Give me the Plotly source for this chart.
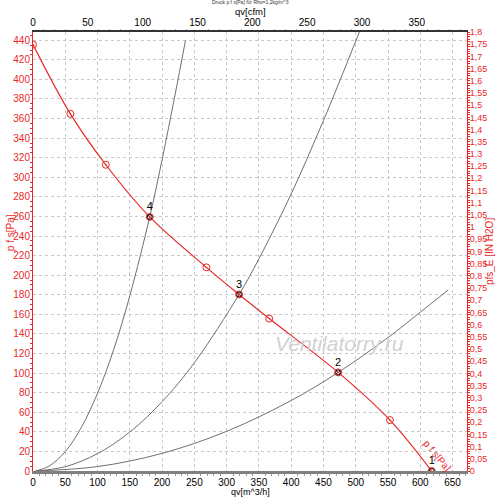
import plotly.graph_objects as go

# Fan curve p f s [Pa] over qv [m^3/h]
fan_q = [0, 57.9, 112.8, 180.8, 268.6, 319.3, 366, 472.8, 553, 617.7]
fan_p = [435.5, 364.8, 312.8, 259.5, 208, 180.3, 155.7, 100.7, 52, 0]

# System curves
sys4_q = [4, 25, 50, 75, 100, 125, 150, 180.8, 200, 220, 236.3]
sys4_p = [0, 5, 19.8, 44.7, 79.4, 124, 179, 259.5, 318, 384, 440]
sys3_q = [4, 50, 100, 150, 200, 250, 319.3, 350, 400, 450, 506]
sys3_p = [0, 4.4, 17.7, 39.8, 70.8, 110.6, 180.3, 216.7, 283, 358, 449]
sys2_q = [4, 100, 200, 300, 400, 472.8, 550, 600, 643.4]
sys2_p = [0, 4.5, 18, 40.5, 72, 100.7, 136.3, 162.2, 185]

# Operating points
op_q = [617.7, 472.8, 319.3, 180.8]
op_p = [0, 100.7, 180.3, 259.5]
op_labels = ["1", "2", "3", "4"]

q_max = 672.4            # m^3/h at right edge
cfm_factor = 1.699       # m^3/h per cfm
pa_max = 448.4
inh2o_max = 1.8

right_vals = [round(i * 0.05, 2) for i in range(37)]
right_text = [("%g" % v).replace(".", ",") for v in right_vals]

RED = "rgb(232,40,40)"
GRID = "#c8c8c8"
FONT = "Liberation Sans, Arial, sans-serif"

fig = go.Figure()

for q, p in [(sys4_q, sys4_p), (sys3_q, sys3_p), (sys2_q, sys2_p)]:
    fig.add_trace(go.Scatter(x=q, y=p, mode="lines", line=dict(color="#707070", width=1, shape="spline"),
                             hoverinfo="skip", showlegend=False))

fig.add_trace(go.Scatter(x=fan_q, y=fan_p, mode="lines+markers",
                         line=dict(color=RED, width=1.2, shape="spline"),
                         marker=dict(symbol="circle-open-dot", size=7, color=RED, line=dict(width=1)),
                         showlegend=False))

fig.add_trace(go.Scatter(x=op_q, y=op_p, mode="markers+text", text=op_labels,
                         textposition="top center", textfont=dict(size=11, color="black", family=FONT),
                         marker=dict(symbol="circle-open", size=5, color="black", line=dict(width=1)),
                         showlegend=False))

# invisible trace to bind the secondary axes
fig.add_trace(go.Scatter(x=[0], y=[0], xaxis="x2", yaxis="y2", mode="markers",
                         marker=dict(opacity=0), hoverinfo="skip", showlegend=False))

fig.update_layout(
    width=500, height=500,
    margin=dict(l=33, r=33, t=32, b=29),
    paper_bgcolor="white", plot_bgcolor="white",
    font=dict(family=FONT, size=10, color="black"),
    xaxis=dict(range=[0, q_max], dtick=50, tick0=0, showgrid=True, gridcolor=GRID, griddash="dot",
               gridwidth=1, zeroline=False, showline=True, linecolor="#808080", linewidth=3,
               ticks="", automargin=False,
               minor=dict(dtick=10, ticks="outside", ticklen=2, tickcolor="#999999"),
               tickfont=dict(size=10, color="black")),
    xaxis2=dict(range=[0, q_max / cfm_factor], overlaying="x", side="top", dtick=50, tick0=0,
                showgrid=False, zeroline=False, showline=True, linecolor="#333333", linewidth=1.5,
                ticks="", automargin=False,
                minor=dict(dtick=10, ticks="outside", ticklen=1, tickcolor="#aaaaaa"),
                tickfont=dict(size=10, color="black")),
    yaxis=dict(range=[0, pa_max], dtick=20, tick0=0, showgrid=True, gridcolor=GRID, griddash="dot",
               gridwidth=1, zeroline=False, showline=True, linecolor=RED, linewidth=1,
               ticks="", automargin=False,
               minor=dict(dtick=5, ticks="outside", ticklen=2, tickcolor=RED),
               tickfont=dict(size=10, color=RED)),
    yaxis2=dict(range=[0, inh2o_max], overlaying="y", side="right", tickmode="array",
                tickvals=right_vals, ticktext=right_text, showgrid=False, zeroline=False,
                showline=True, linecolor=RED, linewidth=1, ticks="", automargin=False,
                minor=dict(dtick=0.01, ticks="outside", ticklen=2, tickcolor=RED),
                tickfont=dict(size=9, color=RED)),
)

annos = [
    dict(text="Druck p f s[Pa] für Rho=1,2kg/m^3", x=0.5, y=1.069, font=dict(size=5, color="#333333")),
    dict(text="qv[cfm]", x=0.5, y=1.046, font=dict(size=9.5, color="black")),
    dict(text="qv[m^3/h]", x=0.5, y=-0.048, font=dict(size=9, color="black")),
    dict(text="p f s[Pa]", x=-0.053, y=0.544, textangle=-90, font=dict(size=10, color=RED)),
    dict(text="pfs_E [IN H2O]", x=1.052, y=0.5, textangle=-90, font=dict(size=10, color=RED)),
    dict(text="<i>Ventilatorry.ru</i>", x=0.706, y=0.29, font=dict(size=21, color="#d2d2d2")),
]
for a in annos:
    fig.add_annotation(xref="paper", yref="paper", showarrow=False, xanchor="center", yanchor="middle", **a)

fig.add_annotation(text="p f s[Pa]", x=626, y=16, xref="x", yref="y", showarrow=False,
                   textangle=50, font=dict(size=10, color=RED))

fig.write_html("out.html", config={"displayModeBar": False},
               post_script="document.body.style.margin='0';document.body.style.overflow='hidden';")
